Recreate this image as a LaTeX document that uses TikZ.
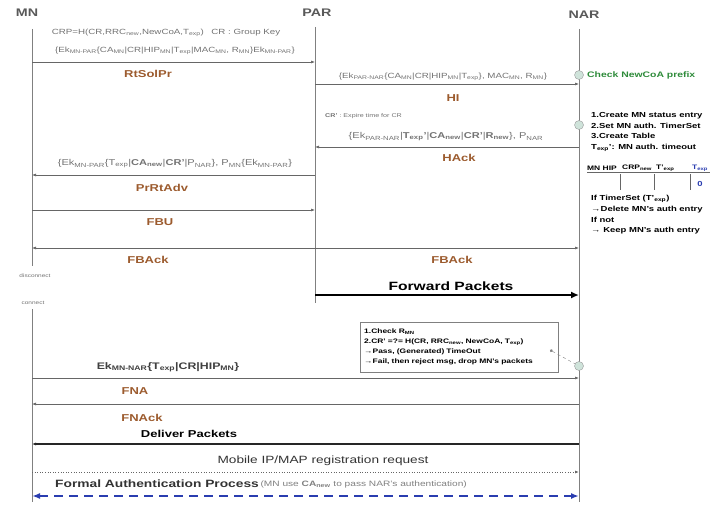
\documentclass[tikz,border=0pt]{standalone}
\usepackage{fontspec}
\setmainfont[FakeStretch=1.3]{Liberation Sans}
\usepackage{xcolor}
\usepackage{tikz}
\usetikzlibrary{arrows.meta,calc}
\definecolor{msgbrown}{HTML}{9C5B2E}
\definecolor{chkgreen}{HTML}{2E8B3A}
\definecolor{authblue}{HTML}{2A3DB0}
\definecolor{chkfill}{HTML}{CFE3DA}
\newcommand{\dn}[1]{\textsubscript{#1}}

\begin{document}
\begin{tikzpicture}
    [
      x=1pt, y=-1pt,
      life/.style = {draw=black!50, line width=0.6pt},
      msg/.style = {draw=black!60, line width=0.6pt, -{Latex[length=4pt,width=3pt]}},
      hd/.style = {text=black!65, font=\bfseries\fontsize{11}{12}\selectfont},
      lbl/.style = {text=msgbrown, font=\bfseries\fontsize{10}{11}\selectfont},
      prm/.style = {text=black!55, font=\fontsize{7.5}{8.5}\selectfont, inner sep=0pt},
      big/.style = {font=\bfseries\fontsize{12}{13}\selectfont},
      chk/.style = {circle, draw=black!40, fill=chkfill, minimum size=9pt, inner sep=0pt},
      note/.style = {font=\bfseries\fontsize{7.3}{10.8}\selectfont, align=left, anchor=north west, inner sep=0pt},
    ]

    \useasboundingbox (0,0) rectangle (719,505);

    % entities and lifelines
    \node[hd] (mn) at (27,13) {MN};
    \node[hd] (par) at (317,13) {PAR};
    \node[hd] (nar) at (584,15) {NAR};
    \coordinate (mnl) at (32,29);
    \coordinate (parl) at (315,27);
    \coordinate (narl) at (579,29);
    \coordinate (brk1) at (0,266);
    \coordinate (brk2) at (0,309);
    \coordinate (pend) at (0,303);
    \coordinate (bot) at (0,502);

    \draw[life] (mnl) -- (mnl |- brk1);
    \draw[life] (mnl |- brk2) -- (mnl |- bot);
    \draw[life] (parl) -- (parl |- pend);
    \draw[life] (narl) -- (narl |- bot);
    \node[font=\fontsize{5}{6}\selectfont, text=black!55] (disc) at (35,276) {disconnect};
    \node[font=\fontsize{5}{6}\selectfont, text=black!55] (conn) at (33,303) {connect};

    % message rows
    \coordinate (r1) at (0,62);
    \coordinate (r2) at (0,84);
    \coordinate (r4) at (0,147);
    \coordinate (r5) at (0,175);
    \coordinate (r6) at (0,210);
    \coordinate (r7) at (0,248);
    \coordinate (r8) at (0,295);
    \coordinate (r9) at (0,378);
    \coordinate (r10) at (0,404);
    \coordinate (r11) at (0,444);
    \coordinate (r12) at (0,472);
    \coordinate (r13) at (0,496);

    % RtSolPr
    \node[prm] (p1a) at (166,33) {CRP=H(CR,RRC\dn{new},NewCoA,T\dn{exp})\quad CR : Group Key};
    \node[prm] (p1b) at (175,51) {\{Ek\dn{MN-PAR}\{CA\dn{MN}|CR|HIP\dn{MN}|T\dn{exp}|MAC\dn{MN}, R\dn{MN}\}Ek\dn{MN-PAR}\}};
    \draw[msg] (mnl |- r1) -- (parl |- r1);
    \node[lbl] (rtsolpr) at (148,74) {RtSolPr};

    % HI
    \node[prm] (p2) at (443,77) {\{Ek\dn{PAR-NAR}\{CA\dn{MN}|CR|HIP\dn{MN}|T\dn{exp}\}, MAC\dn{MN}, R\dn{MN}\}};
    \draw[msg] (parl |- r2) -- (narl |- r2);
    \node[lbl] (hi) at (453,98) {HI};
    \node[chk] (chk1) at (579,75) {};
    \node[anchor=west, text=chkgreen, font=\bfseries\fontsize{8}{9}\selectfont, inner sep=0pt] (prefix) at (587,75) {Check NewCoA prefix};

    % HAck
    \node[prm, anchor=west, font=\fontsize{5.5}{6.5}\selectfont] (crexp) at (325,116) {\textbf{CR'} : Expire time for CR};
    \node[prm, font=\fontsize{8.5}{9.5}\selectfont] (p4) at (446,137) {\{Ek\dn{PAR-NAR}|\textbf{T\dn{exp}'}|\textbf{CA\dn{new}}|\textbf{CR'}|\textbf{R\dn{new}}\}, P\dn{NAR}};
    \draw[msg] (narl |- r4) -- (parl |- r4);
    \node[lbl] (hack) at (459,158) {HAck};
    \node[chk] (chk2) at (579,125) {};
    \node[note] (noteA) at (591,112) {1.Create MN status entry\\2.Set MN auth. TimerSet\\3.Create Table\\T\dn{exp}': MN auth. timeout};
    \node[note, anchor=west, font=\bfseries\fontsize{6.5}{7}\selectfont] (c1) at (587,168) {MN HIP};
    \node[note, anchor=west, font=\bfseries\fontsize{6.5}{7}\selectfont] (c2) at (622,168) {CRP\dn{new}};
    \node[note, anchor=west, font=\bfseries\fontsize{6.5}{7}\selectfont] (c3) at (656,168) {T'\dn{exp}};
    \node[note, anchor=west, font=\bfseries\fontsize{6.5}{7}\selectfont, text=authblue] (c4) at (692,168) {T\dn{exp}};
    \draw[black!60, line width=0.4pt] (c1.south west) ++(0,2) coordinate (tl) -- (tl -| 710,0);
    \foreach \cx in {620,654,690}
      \draw[black!60, line width=0.4pt] (\cx,174) -- (\cx,190);
    \node[note, anchor=center, text=authblue] (zero) at (700,184) {0};
    \node[note] (noteB) at (591,195) {If TimerSet (T'\dn{exp})\\→Delete MN's auth entry\\If not\\→ Keep MN's auth entry};

    % PrRtAdv, FBU, FBAck
    \node[prm, font=\fontsize{8.5}{9.5}\selectfont] (p5) at (175,164) {\{Ek\dn{MN-PAR}\{T\dn{exp}|\textbf{CA\dn{new}}|\textbf{CR'}|P\dn{NAR}\}, P\dn{MN}\{Ek\dn{MN-PAR}\}};
    \draw[msg] (parl |- r5) -- (mnl |- r5);
    \node[lbl] (prrtadv) at (162,188) {PrRtAdv};
    \draw[msg] (mnl |- r6) -- (parl |- r6);
    \node[lbl] (fbu) at (160,222) {FBU};
    \draw[msg] (parl |- r7) -- (mnl |- r7);
    \draw[msg] (parl |- r7) -- (narl |- r7);
    \node[lbl] (fback1) at (148,260) {FBAck};
    \node[lbl] (fback2) at (452,260) {FBAck};

    % Forward Packets
    \node[big] (fwd) at (451,286) {Forward Packets};
    \draw[line width=2.2pt, -{Latex[length=8pt,width=7pt]}] (parl |- r8) -- (narl |- r8);

    % check box at NAR
    \node[draw=black!50, note, inner sep=4pt, text width=190pt, minimum height=50pt,
          font=\bfseries\fontsize{6.5}{10}\selectfont] (ckbox) at (360,322)
      {1.Check R\dn{MN}\\2.CR' =?= H(CR, RRC\dn{new}, NewCoA, T\dn{exp})\\→Pass, (Generated) TimeOut\\→Fail, then reject msg, drop MN's packets};
    \coordinate (bxdot) at (550,350);
    \node[chk] (chk3) at (579,366) {};
    \draw[dashed, draw=black!50, {Circle[length=3pt]}-] (bxdot) -- (chk3);

    % FNA, FNAck, Deliver
    \node[prm, text=black!75, font=\bfseries\fontsize{9.5}{10.5}\selectfont] (p9) at (168,367) {Ek\dn{MN-NAR}\{T\dn{exp}|CR|HIP\dn{MN}\}};
    \draw[msg] (mnl |- r9) -- (narl |- r9);
    \node[lbl] (fna) at (135,391) {FNA};
    \draw[msg] (narl |- r10) -- (mnl |- r10);
    \node[lbl] (fnack) at (142,418) {FNAck};
    \node[font=\bfseries\fontsize{10}{11}\selectfont] (dlv) at (189,434) {Deliver Packets};
    \draw[msg, draw=black!85, line width=1.1pt] (narl |- r11) -- (mnl |- r11);

    % registration and authentication
    \node[font=\fontsize{10.5}{11.5}\selectfont, text=black!80] (mip) at (323,461) {Mobile IP/MAP registration request};
    \draw[msg, dotted, line width=1pt] (mnl |- r12) -- (narl |- r12);
    \node[anchor=west, inner sep=0pt, font=\bfseries\fontsize{10.6}{11.6}\selectfont, text=black!80] (fap) at (55,484) {Formal Authentication Process};
    \node[anchor=west, inner sep=0pt, font=\fontsize{7.8}{8.8}\selectfont, text=black!50] (fapn) at (fap.east) {\,(MN use \textbf{CA\dn{new}} to pass NAR's authentication)};
    \draw[authblue, line width=1.6pt, dash pattern=on 9pt off 6pt, {Latex[length=8pt,width=6pt]}-{Latex[length=8pt,width=6pt]}] (mnl |- r13) -- (narl |- r13);
\end{tikzpicture}
\end{document}
